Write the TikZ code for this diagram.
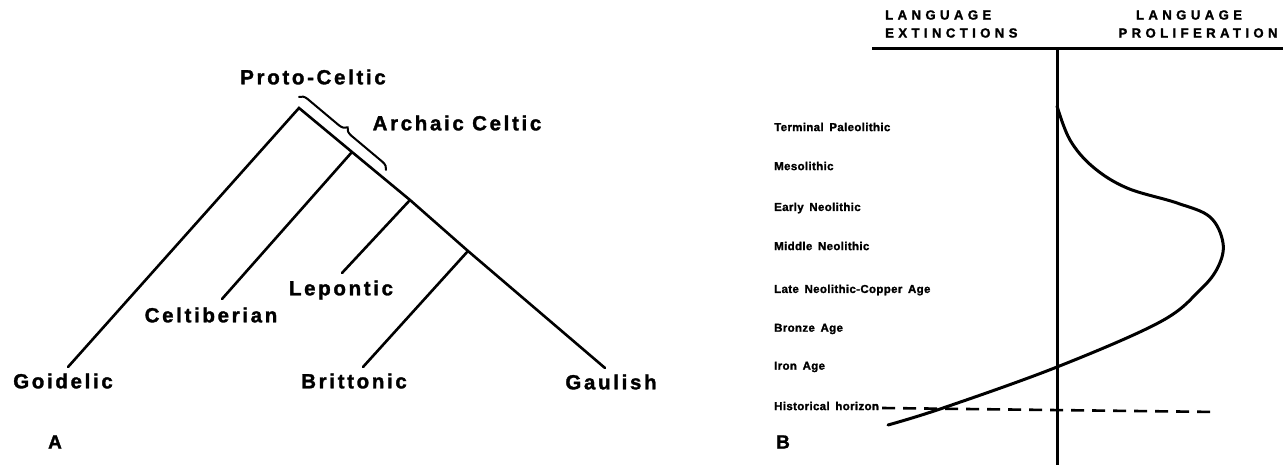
\documentclass[tikz,border=0pt]{standalone}
\usepackage{fontspec}
\setmainfont[FakeBold=1.5]{Liberation Sans Bold}
\newfontfamily\treefont[LetterSpace=13,FakeBold=1.5]{Liberation Sans Bold}
\newfontfamily\headfont[LetterSpace=33,FakeBold=1.5]{Liberation Sans Bold}
\newfontfamily\perfont[LetterSpace=3,WordSpace=1.6,FakeBold=1.5]{Liberation Sans Bold}
\usetikzlibrary{decorations.pathreplacing}
\begin{document}
\begin{tikzpicture}[x=1pt,y=-1pt,
  branch/.style={line width=2.6pt, line cap=round},
  treelabel/.style={font=\treefont\fontsize{20.5}{24}\selectfont, inner sep=0pt},
  panel/.style={font=\fontsize{19}{22}\selectfont, inner sep=0pt},
  headlabel/.style={font=\headfont\fontsize{13.2}{15}\selectfont, inner sep=0pt},
  period/.style={font=\perfont\fontsize{11.5}{14}\selectfont, inner sep=0pt, anchor=west},
  axis/.style={line width=3pt},
  curveline/.style={line width=3pt, line cap=round},
  horizon/.style={line width=2.6pt, dash pattern=on 13pt off 8pt}
]
\useasboundingbox (0,0) rectangle (1283,465);

% ---------- Panel A: tree ----------
\coordinate (apex) at (299,108);
\coordinate (b1) at (352,152);
\coordinate (b2) at (410,200);
\coordinate (b3) at (468,251);
\coordinate (gaulEnd) at (605,368);
\coordinate (goidEnd) at (68,367);
\coordinate (celtEnd) at (222,299);
\coordinate (lepEnd) at (342,273);
\coordinate (britEnd) at (363,367);
\coordinate (bs) at (299,97);
\coordinate (be) at (386,170);

\draw[branch] (goidEnd) -- (apex) -- (b1) -- (b2) -- (b3) -- (gaulEnd);
\draw[branch] (b1) -- (celtEnd);
\draw[branch] (b2) -- (lepEnd);
\draw[branch] (b3) -- (britEnd);
\draw[line width=2pt, line cap=round, decorate, decoration={brace, amplitude=8pt}] (bs) -- (be);

\node[treelabel] (proto) at (313,77) {Proto-Celtic};
\node[treelabel] (archaic) at (457,123) {Archaic Celtic};
\node[treelabel] (celtib) at (211,315) {Celtiberian};
\node[treelabel] (lepon) at (341,290) {Lepontic};
\node[treelabel] (goid) at (63,381) {Goidelic};
\node[treelabel] (brit) at (354,381) {Brittonic};
\node[treelabel] (gaul) at (611,382) {Gaulish};
\node[panel] (la) at (55,442) {A};

% ---------- Panel B: graph ----------
\coordinate (hl) at (872,49);
\coordinate (hr) at (1283,49);
\coordinate (at) at (1057,49);
\coordinate (ab) at (1057,465);
\draw[axis] (hl) -- (hr);
\draw[axis] (at) -- (ab);

\node[headlabel, anchor=west] (h1) at (885,15) {LANGUAGE};
\node[headlabel, anchor=west] (h2) at (885,33) {EXTINCTIONS};
\node[headlabel] (h3) at (1189,15) {LANGUAGE};
\node[headlabel] (h4) at (1198,33) {PROLIFERATION};

\node[period] (p1) at (774,127) {Terminal Paleolithic};
\node[period] (p2) at (774,166) {Mesolithic};
\node[period] (p3) at (774,208) {Early Neolithic};
\node[period] (p4) at (774,246) {Middle Neolithic};
\node[period] (p5) at (774,290) {Late Neolithic-Copper Age};
\node[period] (p6) at (774,329) {Bronze Age};
\node[period] (p7) at (774,367) {Iron Age};
\node[period] (p8) at (774,406) {Historical horizon};
\node[panel] (lb) at (783,442) {B};

\coordinate (dr) at (1218,412);
\draw[horizon] ([xshift=3pt,yshift=-2pt]p8.east) -- (dr);

\draw[curveline] plot[smooth, tension=0.6] coordinates {
  (1057,106) (1070,140) (1093,167) (1127,188) (1177,203) (1210,217)
  (1223,243) (1218,267) (1200,290) (1160,322) (1057,367) (943,408) (888,425)};
\end{tikzpicture}
\end{document}
